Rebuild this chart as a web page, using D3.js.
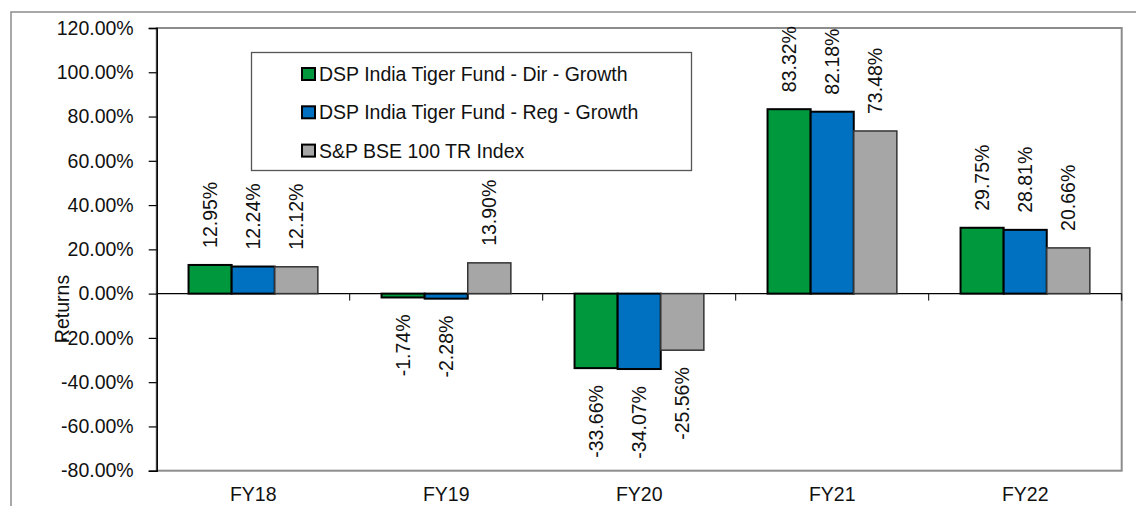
<!DOCTYPE html>
<html>
<head>
<meta charset="utf-8">
<script src="https://cdn.jsdelivr.net/npm/d3@7"></script>
<style>
  body { margin: 0; background: #fff; }
  text { font-family: "Liberation Sans", Arial, sans-serif; font-size: 19.5px; fill: #111; }
</style>
</head>
<body>
<div id="container"></div>
<script>
/* CONSTANTS AND GLOBALS */
const width = 1136;
const height = 506;

const years = ["FY18", "FY19", "FY20", "FY21", "FY22"];
const seriesNames = [
  "DSP India Tiger Fund - Dir - Growth",
  "DSP India Tiger Fund - Reg - Growth",
  "S&P BSE 100 TR Index"
];
const dirGrowth = [12.95, -1.74, -33.66, 83.32, 29.75];
const regGrowth = [12.24, -2.28, -34.07, 82.18, 28.81];
const bse100 = [12.12, 13.90, -25.56, 73.48, 20.66];
const yTicks = [120, 100, 80, 60, 40, 20, 0, -20, -40, -60, -80];

const colors = ["#00983C", "#0070C0", "#A6A6A6"];

const plot = { left: 156.7, right: 1121.7, top: 28, bottom: 470.7 };

const allSeries = [dirGrowth, regGrowth, bse100];
const data = years.map((yr, i) => ({
  year: yr,
  values: seriesNames.map((s, j) => ({ key: s, idx: j, value: allSeries[j][i] }))
}));

const svg = d3.select("#container")
  .append("svg")
  .attr("width", width)
  .attr("height", height);

// outer chart frame (runs off the right/bottom edge)
svg.append("path")
  .attr("d", `M11,${height + 5} V12 H${width + 5}`)
  .attr("fill", "none")
  .attr("stroke", "#8c8c8c")
  .attr("stroke-width", 1.5);

/* SCALES */
const xScale = d3.scaleBand()
  .domain(years)
  .range([plot.left, plot.right]);

const groupW = xScale.bandwidth() * 0.67;
const x1 = d3.scaleBand()
  .domain(d3.range(seriesNames.length))
  .range([(xScale.bandwidth() - groupW) / 2, (xScale.bandwidth() + groupW) / 2]);

const yScale = d3.scaleLinear()
  .domain([-80, 120])
  .range([plot.bottom, plot.top]);

// plot area frame
svg.append("rect")
  .attr("x", plot.left)
  .attr("y", plot.top)
  .attr("width", plot.right - plot.left)
  .attr("height", plot.bottom - plot.top)
  .attr("fill", "none")
  .attr("stroke", "#8c8c8c")
  .attr("stroke-width", 2);

/* AXES */
const yAxis = d3.axisLeft(yScale)
  .tickValues(yTicks)
  .tickSize(8)
  .tickPadding(15)
  .tickFormat(d => d.toFixed(2) + "%");

const yG = svg.append("g")
  .attr("transform", `translate(${plot.left},0)`)
  .call(yAxis);
yG.select(".domain").attr("stroke", "#000").attr("stroke-width", 1.5);
yG.selectAll(".tick line").attr("stroke", "#000").attr("stroke-width", 1.2);
yG.selectAll(".tick text")
  .attr("font-size", null)
  .attr("font-family", null)
  .attr("fill", "#111");
yG.attr("font-size", null).attr("font-family", null);

// zero line with category separators
const y0 = yScale(0);
svg.append("line")
  .attr("x1", plot.left).attr("x2", plot.right)
  .attr("y1", y0).attr("y2", y0)
  .attr("stroke", "#000").attr("stroke-width", 1.2);

svg.selectAll(".sep")
  .data(years.slice(1).concat(["end"]))
  .join("line")
  .attr("class", "sep")
  .attr("x1", (d, i) => i < years.length - 1 ? xScale(d) : plot.right)
  .attr("x2", (d, i) => i < years.length - 1 ? xScale(d) : plot.right)
  .attr("y1", y0).attr("y2", y0 + 7)
  .attr("stroke", "#000").attr("stroke-width", 1);

// category labels
svg.selectAll(".cat")
  .data(years)
  .join("text")
  .attr("class", "cat")
  .attr("x", d => xScale(d) + xScale.bandwidth() / 2)
  .attr("y", 501)
  .attr("text-anchor", "middle")
  .text(d => d);

// y title
svg.append("text")
  .attr("transform", `translate(62,309) rotate(-90)`)
  .attr("text-anchor", "middle")
  .attr("dy", "0.35em")
  .text("Returns");

/* BARS */
const groups = svg.selectAll(".grp")
  .data(data)
  .join("g")
  .attr("class", "grp")
  .attr("transform", d => `translate(${xScale(d.year)},0)`);

groups.selectAll(".bar")
  .data(d => d.values)
  .join("rect")
  .attr("class", "bar")
  .attr("x", d => x1(d.idx))
  .attr("width", x1.bandwidth())
  .attr("y", d => yScale(Math.max(0, d.value)))
  .attr("height", d => Math.abs(yScale(d.value) - yScale(0)))
  .attr("fill", d => colors[d.idx])
  .attr("stroke", d => d.idx === 2 ? "#333" : "#000")
  .attr("stroke-width", d => d.idx === 2 ? 1.5 : 2);

// value labels
groups.selectAll(".lbl")
  .data(d => d.values)
  .join("text")
  .attr("class", "lbl")
  .attr("transform", d => {
    const cx = x1(d.idx) + x1.bandwidth() / 2;
    const cy = d.value >= 0 ? yScale(d.value) - 17 : yScale(d.value) + 17;
    return `translate(${cx},${cy}) rotate(-90)`;
  })
  .attr("dy", "0.35em")
  .attr("text-anchor", d => d.value >= 0 ? "start" : "end")
  .text(d => d.value.toFixed(2) + "%");

/* LEGEND */
const legend = svg.append("g");
legend.append("rect")
  .attr("x", 251.5).attr("y", 52.5)
  .attr("width", 440).attr("height", 118)
  .attr("fill", "#fff")
  .attr("stroke", "#555")
  .attr("stroke-width", 1.3);

const items = legend.selectAll(".item")
  .data(seriesNames)
  .join("g")
  .attr("class", "item")
  .attr("transform", (d, i) => `translate(0,${81 + i * 38.3})`);

items.append("rect")
  .attr("x", 302).attr("y", -13)
  .attr("width", 13).attr("height", 12)
  .attr("fill", (d, i) => colors[i])
  .attr("stroke", "#000")
  .attr("stroke-width", 2);

items.append("text")
  .attr("x", 319)
  .attr("y", 0)
  .text(d => d);
</script>
</body>
</html>
